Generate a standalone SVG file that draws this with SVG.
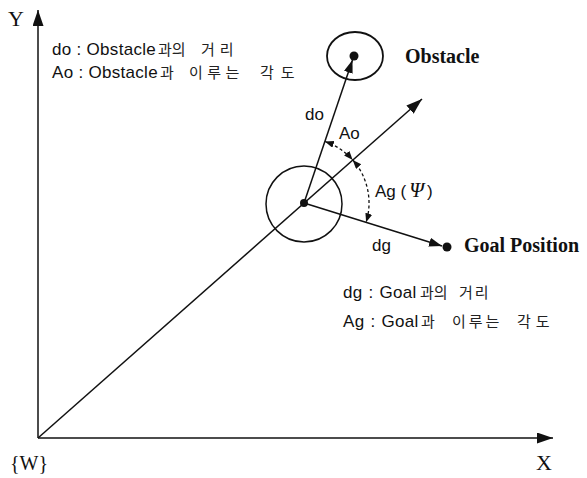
<svg xmlns="http://www.w3.org/2000/svg" width="587" height="478" viewBox="0 0 587 478">
<style>
.ln{stroke:#111;stroke-width:1.5;fill:none}
.dash{stroke:#111;stroke-width:1.3;fill:none;stroke-dasharray:3 2.5}
.sans{font-family:"Liberation Sans","Noto Sans CJK KR",Arial,sans-serif;font-size:17px;fill:#111}
.lat{font-size:17px;letter-spacing:0.3px}
.ko{font-family:"Noto Sans CJK KR","Liberation Sans",sans-serif;font-size:15px;fill:#222}
.ser{font-family:"Liberation Serif","Times New Roman",serif;fill:#111}
.bold{font-family:"Liberation Serif","Times New Roman",serif;font-weight:bold;fill:#111}
</style>
<defs>
<marker id="big" markerUnits="userSpaceOnUse" markerWidth="18" markerHeight="12" refX="16" refY="5.5" orient="auto"><path d="M0,0 L16,5.5 L0,11 z" fill="#111"/></marker>
<marker id="mid" markerUnits="userSpaceOnUse" markerWidth="16" markerHeight="10" refX="13" refY="4.5" orient="auto"><path d="M0,0 L13,4.5 L0,9 z" fill="#111"/></marker>
<marker id="sm" markerUnits="userSpaceOnUse" markerWidth="12" markerHeight="9" refX="9" refY="3.5" orient="auto-start-reverse"><path d="M0,0 L9,3.5 L0,7 z" fill="#111"/></marker>
</defs>
<g id="connectors">
<line class="ln" x1="38" y1="438" x2="38" y2="10" marker-end="url(#big)"/>
<line class="ln" x1="38" y1="438" x2="553" y2="438" marker-end="url(#big)"/>
<line class="ln" x1="38" y1="438" x2="422" y2="99" marker-end="url(#big)"/>
<line class="ln" x1="304" y1="203" x2="352.5" y2="60" marker-end="url(#mid)"/>
<line class="ln" x1="304" y1="203" x2="442" y2="246" marker-end="url(#mid)"/>
<path class="dash" d="M324.9,141.5 A65,65 0 0 1 352.7,159.9" marker-start="url(#sm)" marker-end="url(#sm)"/>
<path class="dash" d="M352.7,159.9 A65,65 0 0 1 366.1,222.3" marker-start="url(#sm)" marker-end="url(#sm)"/>
</g>
<g id="robot">
<circle class="ln" cx="304" cy="204" r="38"/>
<circle cx="304" cy="203" r="4" fill="#111"/>
</g>
<g id="obstacle">
<ellipse cx="355" cy="56" rx="28" ry="24" fill="none" stroke="#111" stroke-width="1.8"/>
<circle cx="354" cy="56" r="4.5" fill="#111"/>
<text class="bold" x="405" y="63" font-size="20">Obstacle</text>
</g>
<g id="goal">
<circle cx="447" cy="247" r="4.5" fill="#111"/>
<text class="bold" x="464" y="252" font-size="20">Goal Position</text>
</g>
<g id="labels">
<text class="ser" x="8" y="26" font-size="22">Y</text>
<text class="ser" x="536" y="470" font-size="22">X</text>
<text class="ser" x="10" y="470" font-size="20">{W}</text>
<text class="sans" y="55"><tspan class="lat" x="52">do : Obstacle</tspan><tspan class="ko" x="158">과의</tspan><tspan class="ko" x="201" letter-spacing="5">거리</tspan></text>
<text class="sans" y="78"><tspan class="lat" x="52">Ao : Obstacle</tspan><tspan class="ko" x="160">과</tspan><tspan class="ko" x="189" letter-spacing="4.5">이루는</tspan><tspan class="ko" x="260" letter-spacing="7">각도</tspan></text>
<text class="sans" y="298"><tspan class="lat" x="343" word-spacing="1">dg : Goal</tspan><tspan class="ko" x="420">과의</tspan><tspan class="ko" x="459" letter-spacing="2">거리</tspan></text>
<text class="sans" y="327"><tspan class="lat" x="343" word-spacing="1">Ag : Goal</tspan><tspan class="ko" x="421">과</tspan><tspan class="ko" x="452" letter-spacing="3">이루는</tspan><tspan class="ko" x="517" letter-spacing="5">각도</tspan></text>
<text class="sans" x="305" y="120" font-size="18">do</text>
<text class="sans" x="339" y="139" font-size="18">Ao</text>
<text class="sans" x="375" y="197" font-size="18">Ag (<tspan class="ser" font-style="italic" font-size="21" dx="3">Ψ</tspan><tspan dx="3">)</tspan></text>
<text class="sans" x="372" y="251" font-size="18">dg</text>
</g>
</svg>
